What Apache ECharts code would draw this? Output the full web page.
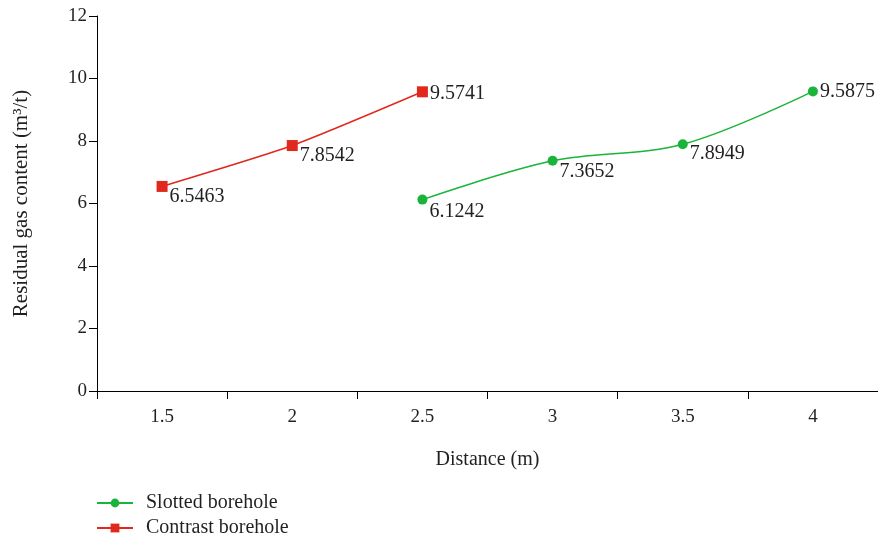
<!DOCTYPE html>
<html>
<head>
<meta charset="utf-8">
<script src="https://cdn.jsdelivr.net/npm/echarts@6/dist/echarts.min.js"></script>
<style>html,body{margin:0;padding:0;background:#fff}#c{width:878px;height:538px}</style>
</head>
<body>
<div id="c"></div>
<script>
const categories = ['1.5', '2', '2.5', '3', '3.5', '4'];
const slotted = [null, null, 6.1242, 7.3652, 7.8949, 9.5875];
const contrast = [6.5463, 7.8542, 9.5741, null, null, null];
const yTicks = [0, 2, 4, 6, 8, 10, 12];

const FONT = '"Liberation Serif", "DejaVu Serif", serif';
const TXT = '#231f20';
const GREEN = '#1bb43a';
const RED = '#e0291c';

// label vertical offsets (styling only)
const slottedOff = [0, 0, 12, 11, 9, 0];
const contrastOff = [10, 10, 2, 0, 0, 0];

function withLabels(vals, offs) {
  return vals.map((v, i) => v == null ? null : {
    value: v,
    label: { offset: [0, offs[i]] }
  });
}

const chart = echarts.init(document.getElementById('c'), null, { renderer: 'canvas' });
chart.setOption({
  animation: false,
  textStyle: { fontFamily: FONT },
  grid: { left: 97, top: 16, width: 784, height: 375, containLabel: false },
  legend: {
    orient: 'vertical',
    left: 96,
    top: 493,
    height: 48,
    itemWidth: 36,
    itemHeight: 11,
    itemGap: 5,
    padding: 0,
    textStyle: { fontFamily: FONT, fontSize: 20, color: TXT, lineHeight: 20, padding: [0, 0, 0, 8] },
    data: ['Slotted borehole', 'Contrast borehole']
  },
  xAxis: {
    type: 'category',
    data: categories,
    boundaryGap: true,
    name: 'Distance (m)',
    nameLocation: 'middle',
    nameGap: 59,
    nameTextStyle: { fontFamily: FONT, fontSize: 20, color: TXT },
    axisLine: { lineStyle: { color: '#000', width: 1 } },
    axisTick: { show: true, length: 8, lineStyle: { color: '#000' } },
    axisLabel: { fontFamily: FONT, fontSize: 19, color: TXT, margin: 17 },
    splitLine: { show: false }
  },
  yAxis: {
    type: 'value',
    min: yTicks[0],
    max: yTicks[yTicks.length - 1],
    interval: 2,
    name: 'Residual gas content (m³/t)',
    nameLocation: 'middle',
    nameGap: 65,
    nameTextStyle: { fontFamily: FONT, fontSize: 21, color: TXT },
    axisLine: { show: true, lineStyle: { color: '#000', width: 1 } },
    axisTick: { show: true, length: 8, lineStyle: { color: '#000' } },
    axisLabel: { fontFamily: FONT, fontSize: 19, color: TXT, margin: 10 },
    splitLine: { show: false }
  },
  series: [
    {
      name: 'Slotted borehole',
      type: 'line',
      smooth: 0.35,
      connectNulls: false,
      data: withLabels(slotted, slottedOff),
      symbol: 'circle',
      symbolSize: 10,
      itemStyle: { color: GREEN },
      lineStyle: { color: GREEN, width: 1.5 },
      label: {
        show: true, position: 'right', distance: 2,
        fontFamily: FONT, fontSize: 20, color: TXT
      }
    },
    {
      name: 'Contrast borehole',
      type: 'line',
      smooth: 0.2,
      data: withLabels(contrast, contrastOff),
      symbol: 'rect',
      symbolSize: 11,
      itemStyle: { color: RED },
      lineStyle: { color: RED, width: 1.5 },
      label: {
        show: true, position: 'right', distance: 2,
        fontFamily: FONT, fontSize: 20, color: TXT
      }
    }
  ]
});
</script>
</body>
</html>
